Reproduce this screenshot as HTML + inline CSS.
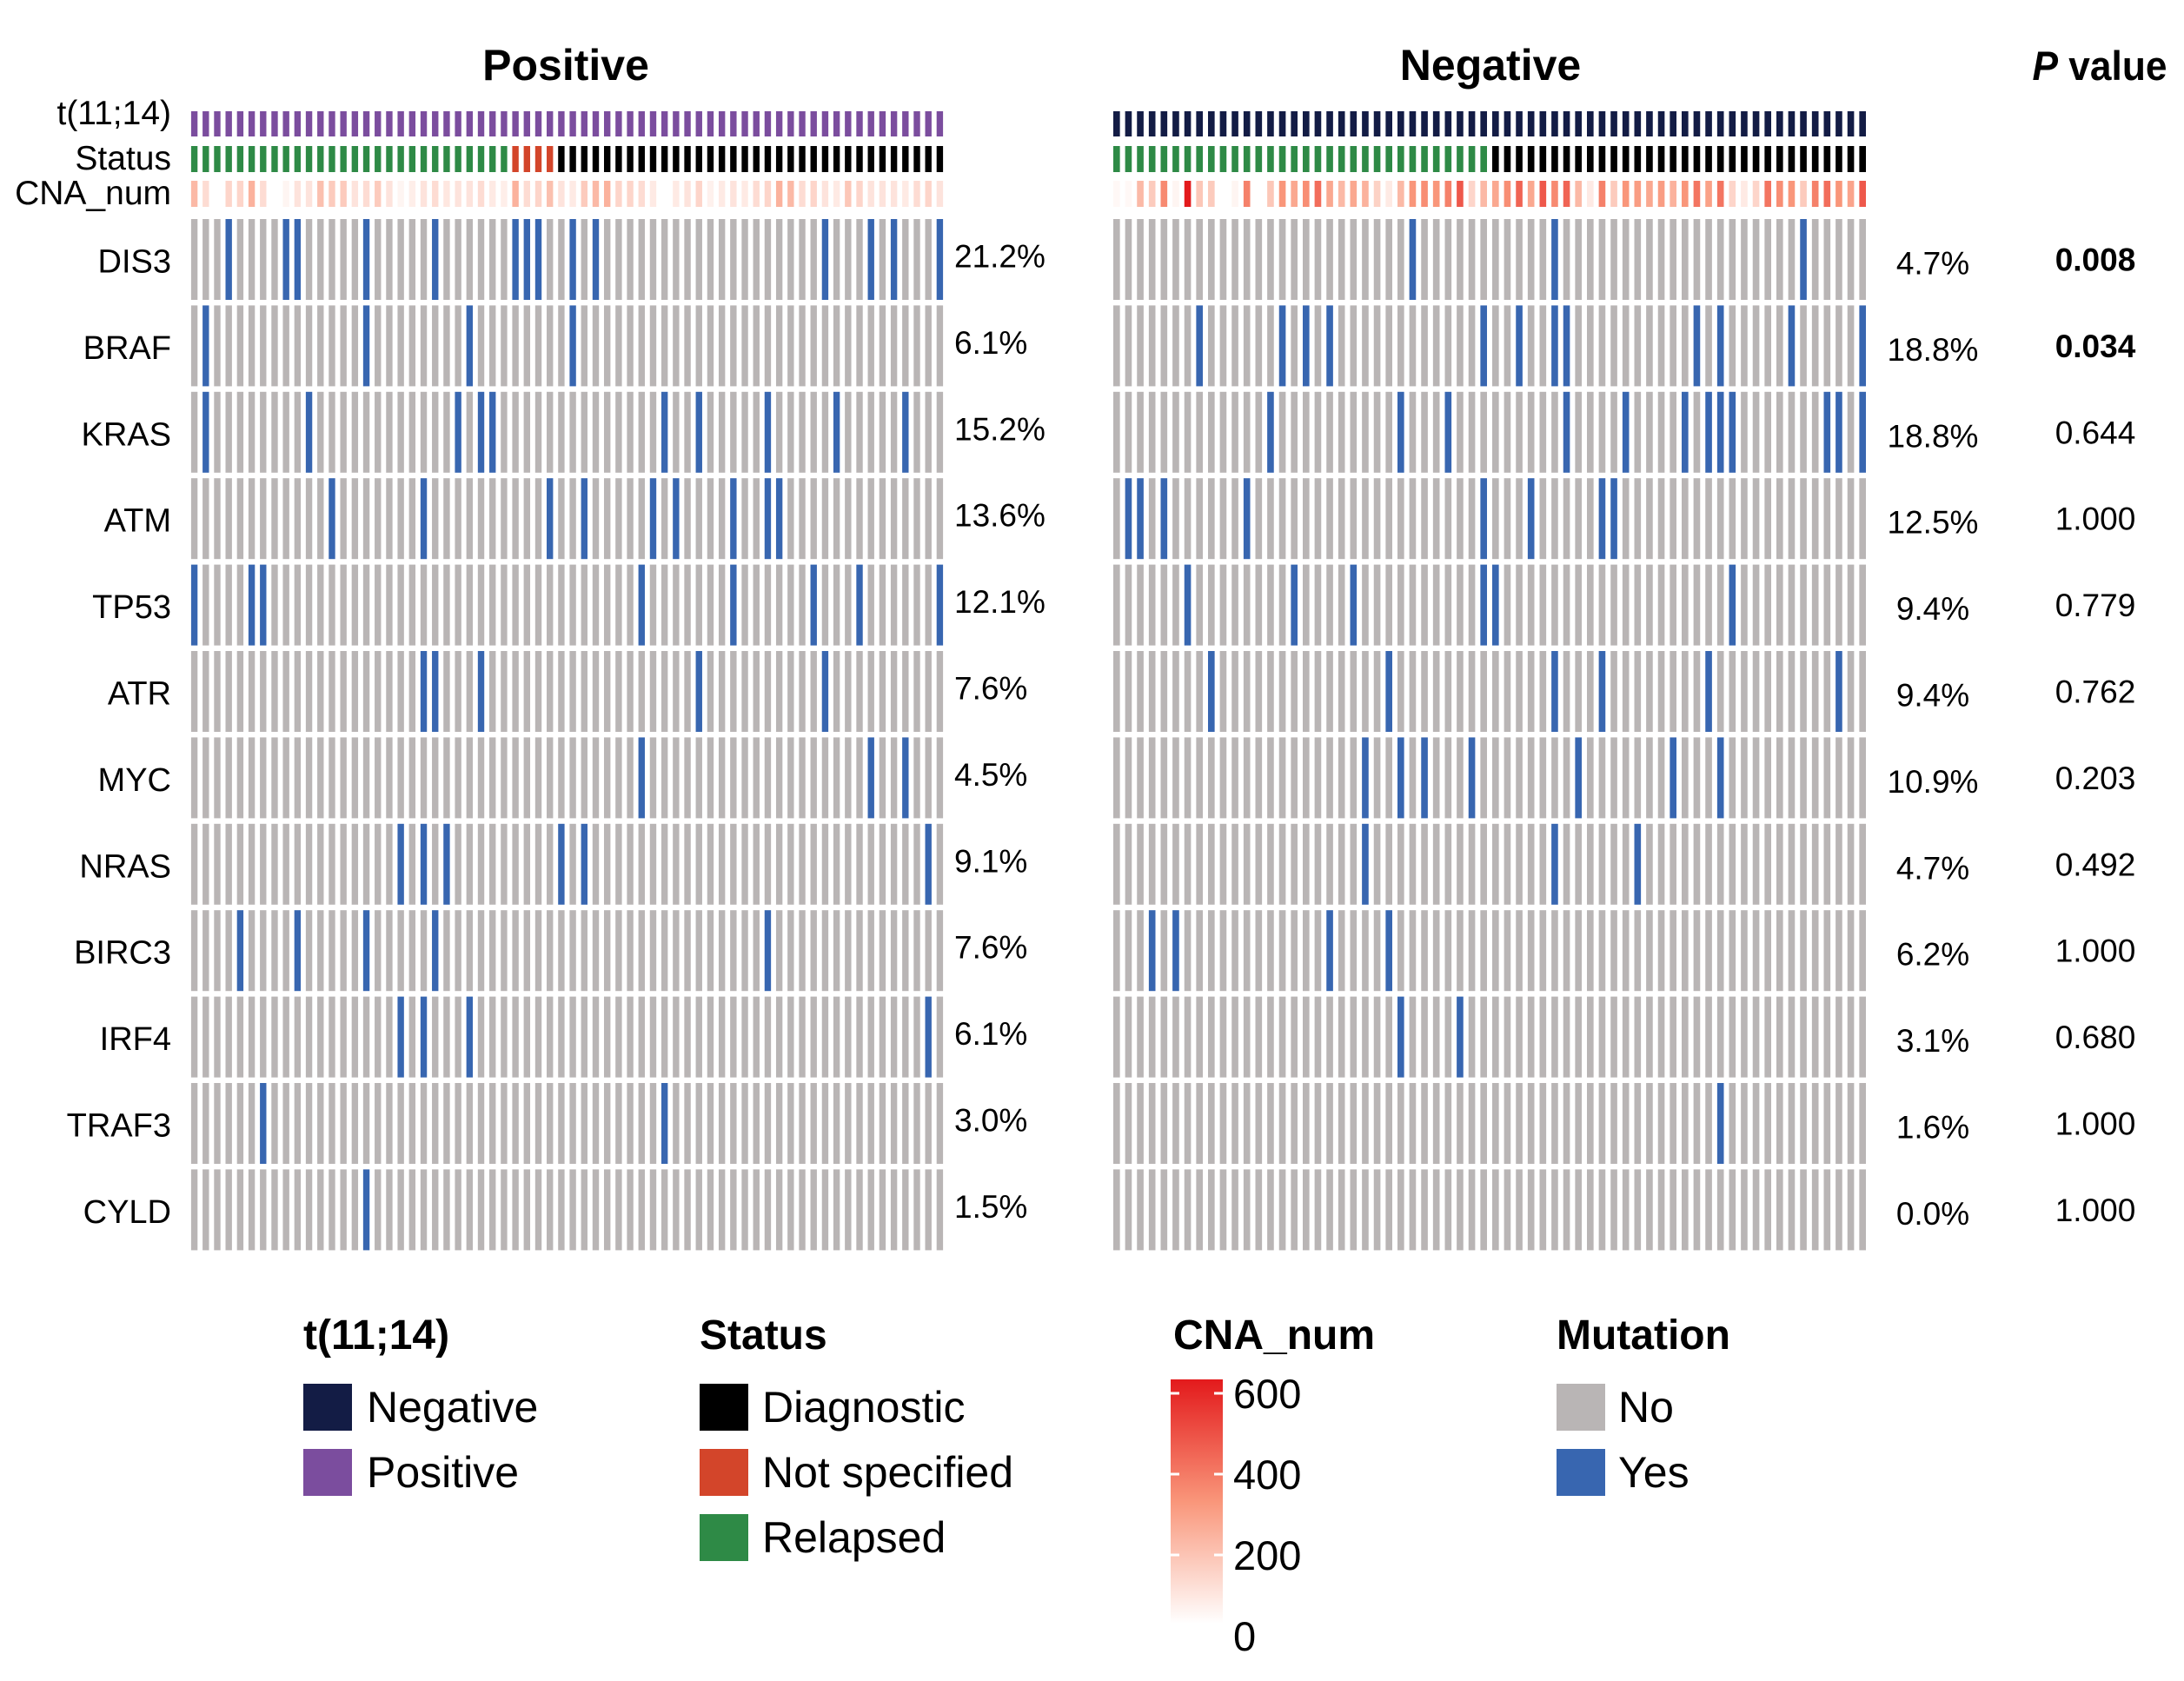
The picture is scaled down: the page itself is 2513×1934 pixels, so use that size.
<!DOCTYPE html>
<html><head><meta charset="utf-8"><style>
html,body{margin:0;padding:0;background:#fff;}
svg{display:block;font-family:"Liberation Sans",Arial,sans-serif;}
</style></head><body>
<svg id="chart" width="2513" height="1934" viewBox="0 0 2513 1934" xmlns="http://www.w3.org/2000/svg">
<g id="titles">
<text x="651" y="92" font-size="50" font-weight="bold" text-anchor="middle">Positive</text>
<text x="1715" y="92" font-size="50" font-weight="bold" text-anchor="middle">Negative</text>
<text x="2416" y="92" font-size="47" font-weight="bold" text-anchor="middle" textLength="155" lengthAdjust="spacingAndGlyphs"><tspan font-style="italic">P</tspan> value</text>
<text x="197" y="143" font-size="39" text-anchor="end">t(11;14)</text>
<text x="197" y="195" font-size="39" text-anchor="end">Status</text>
<text x="197" y="235" font-size="39" text-anchor="end">CNA_num</text>
</g>
<g id="marks"></g>
<g id="legend">
<text x="349" y="1552" font-size="48" font-weight="bold">t(11;14)</text>
<rect x="349" y="1592" width="56" height="54" fill="#131c45"/>
<text x="422" y="1636" font-size="50">Negative</text>
<rect x="349" y="1667" width="56" height="54" fill="#7b4d9e"/>
<text x="422" y="1711" font-size="50">Positive</text>

<text x="805" y="1552" font-size="48" font-weight="bold">Status</text>
<rect x="805" y="1592" width="56" height="54" fill="#000"/>
<text x="877" y="1636" font-size="50">Diagnostic</text>
<rect x="805" y="1667" width="56" height="54" fill="#d3452a"/>
<text x="877" y="1711" font-size="50">Not specified</text>
<rect x="805" y="1742" width="56" height="54" fill="#2e8a46"/>
<text x="877" y="1786" font-size="50">Relapsed</text>

<text x="1350" y="1552" font-size="48" font-weight="bold">CNA_num</text>
<defs><linearGradient id="cnag" x1="0" y1="1" x2="0" y2="0">
<stop offset="0" stop-color="#ffffff"/><stop offset="0.5" stop-color="#f9967a"/><stop offset="1" stop-color="#e31a1c"/></linearGradient></defs>
<rect x="1347" y="1587" width="60" height="281" fill="url(#cnag)"/>
<g stroke="#fff" stroke-width="3">
<line x1="1347" y1="1603" x2="1357" y2="1603"/><line x1="1397" y1="1603" x2="1407" y2="1603"/>
<line x1="1347" y1="1696" x2="1357" y2="1696"/><line x1="1397" y1="1696" x2="1407" y2="1696"/>
<line x1="1347" y1="1789" x2="1357" y2="1789"/><line x1="1397" y1="1789" x2="1407" y2="1789"/>
</g>
<text x="1419" y="1620" font-size="47">600</text>
<text x="1419" y="1713" font-size="47">400</text>
<text x="1419" y="1806" font-size="47">200</text>
<text x="1419" y="1899" font-size="47">0</text>

<text x="1791" y="1552" font-size="48" font-weight="bold">Mutation</text>
<rect x="1791" y="1592" width="56" height="54" fill="#b9b5b5"/>
<text x="1862" y="1636" font-size="50">No</text>
<rect x="1791" y="1667" width="56" height="54" fill="#3866b0"/>
<text x="1862" y="1711" font-size="50">Yes</text>
</g>
</svg>
<script>
const genes = ["DIS3","BRAF","KRAS","ATM","TP53","ATR","MYC","NRAS","BIRC3","IRF4","TRAF3","CYLD"];
const posCount = 66;
const negCount = 64;
const posMut = [[3,8,9,15,21,28,29,30,33,35,55,59,61,65],[1,15,24,33],[1,10,23,25,26,41,44,50,56,62],[12,20,31,34,40,42,47,50,51],[0,5,6,39,47,54,58,65],[20,21,25,44,55],[39,59,62],[18,20,22,32,34,64],[4,9,15,21,50],[18,20,24,64],[6,41],[15]];
const negMut = [[25,37,58],[7,14,16,18,31,34,37,38,49,51,57,63],[13,24,28,38,43,48,50,51,52,60,61,63],[1,2,4,11,31,35,41,42],[6,15,20,31,32,52],[8,23,37,41,50,61],[21,24,26,30,39,47,51],[21,37,44],[3,5,18,23],[24,29],[51],[]];
const posPct = ["21.2%","6.1%","15.2%","13.6%","12.1%","7.6%","4.5%","9.1%","7.6%","6.1%","3.0%","1.5%"];
const negPct = ["4.7%","18.8%","18.8%","12.5%","9.4%","9.4%","10.9%","4.7%","6.2%","3.1%","1.6%","0.0%"];
const pVals = ["0.008","0.034","0.644","1.000","0.779","0.762","0.203","0.492","1.000","0.680","1.000","1.000"];
const pBold = [true,true,false,false,false,false,false,false,false,false,false,false];
const posStatus = "RRRRRRRRRRRRRRRRRRRRRRRRRRRRNNNNDDDDDDDDDDDDDDDDDDDDDDDDDDDDDDDDDD";
const negStatus = "RRRRRRRRRRRRRRRRRRRRRRRRRRRRRRRRDDDDDDDDDDDDDDDDDDDDDDDDDDDDDDDD";
const posCNA = [200,100,0,120,120,220,100,0,30,80,80,180,150,150,80,100,150,80,30,50,80,100,70,80,80,100,60,50,220,100,120,180,80,60,150,200,220,120,120,100,60,0,60,80,120,40,60,80,60,100,120,220,200,100,120,80,60,160,120,80,80,80,60,100,120,80];
const negCNA = [20,20,200,150,330,30,600,160,150,0,30,350,0,160,300,250,320,400,250,200,250,220,130,60,200,300,320,300,350,450,120,200,250,320,420,250,450,330,420,200,60,350,150,300,280,250,280,220,300,380,270,380,120,60,120,380,320,300,150,350,400,300,260,450];

const NS="http://www.w3.org/2000/svg";
const g=document.getElementById('marks');
function mk(tag,attrs){const e=document.createElementNS(NS,tag);for(const k in attrs)e.setAttribute(k,attrs[k]);g.appendChild(e);return e;}
const rowTop0=252, rowPitch=99.4, rowH=93;
function rowY(i){return rowTop0+i*rowPitch;}
const panels=[{x0:217,x1:1088,n:posCount,mut:posMut,st:posStatus,cna:posCNA,tcol:"#7b4d9e",name:"positive"},
              {x0:1278,x1:2150,n:negCount,mut:negMut,st:negStatus,cna:negCNA,tcol:"#131c45",name:"negative"}];
const stCol={R:"#2e8a46",N:"#d3452a",D:"#000000"};
function cnaColor(v){const t=Math.max(0,Math.min(1,v/600));
  let a,b,u; if(t<0.5){a=[255,255,255];b=[249,150,122];u=t/0.5;}else{a=[249,150,122];b=[227,26,28];u=(t-0.5)/0.5;}
  return "rgb("+a.map((c,i)=>Math.round(c+(b[i]-c)*u)).join(",")+")";}
panels.forEach(p=>{
  const pitch=(p.x1-p.x0)/p.n, bw=pitch*0.56;
  function xC(j){return p.x0+pitch*j+(pitch-bw)/2;}
  for(let j=0;j<p.n;j++){
    let e=mk('rect',{x:xC(j),y:128,width:bw,height:29,fill:p.tcol});
    
    
    e=mk('rect',{x:xC(j),y:168,width:bw,height:30,fill:stCol[p.st[j]]});
    
    
    e=mk('rect',{x:xC(j),y:208,width:bw,height:30,fill:cnaColor(p.cna[j])});
    
    
  }
  genes.forEach((gn,i)=>{
    const set=new Set(p.mut[i]);
    for(let j=0;j<p.n;j++){
      const e=mk('rect',{x:xC(j),y:rowY(i),width:bw,height:rowH,fill:set.has(j)?"#3866b0":"#b9b5b5"});
      
      
    }
  });
});
genes.forEach((gn,i)=>{
  const cy=rowY(i)+rowH/2+13;
  let t=mk('text',{x:197,y:cy+2,'font-size':38,'text-anchor':'end'});t.textContent=gn;
  
  
  t=mk('text',{x:1098,y:cy-4,'font-size':37});t.textContent=posPct[i];
  
  
  t=mk('text',{x:2224,y:cy+4,'font-size':37,'text-anchor':'middle'});t.textContent=negPct[i];
  
  
  t=mk('text',{x:2411,y:cy,'font-size':37,'text-anchor':'middle','font-weight':pBold[i]?'bold':'normal'});t.textContent=pVals[i];
  
  
});
</script>
</body></html>
